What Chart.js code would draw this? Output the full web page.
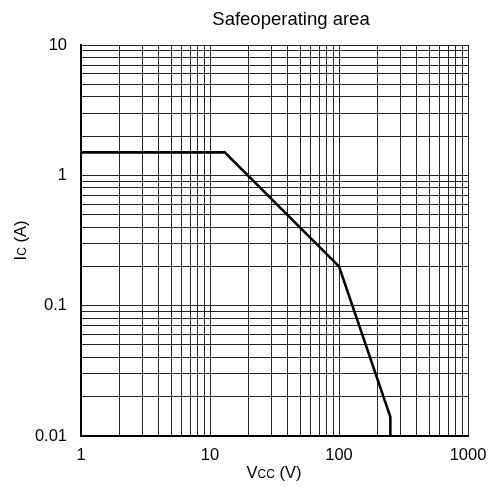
<!DOCTYPE html>
<html>
<head>
<meta charset="utf-8">
<script src="https://cdn.jsdelivr.net/npm/chart.js@4"></script>
<style>
  html, body { margin: 0; padding: 0; background: #fff; }
  #wrap { width: 491px; height: 487px; }
</style>
</head>
<body>
<div id="wrap"><canvas id="soa" width="491" height="487"></canvas></div>
<script>
// SOA boundary
const vcc = [1, 13, 100, 250, 250];
const ic = [1.5, 1.5, 0.2, 0.014, 0.01];

const xTickLabels = ['1', '10', '100', '1000'];
const yTickLabels = ['0.01', '0.1', '1', '10'];

const FONT = 'Arial, "Liberation Sans", sans-serif';

// 1..9 per decade so every minor grid line shows
function logTicks(min, max) {
  const out = [];
  for (let e = Math.round(Math.log10(min)); e < Math.round(Math.log10(max)); e++) {
    for (let k = 1; k < 10; k++) out.push({ value: k * Math.pow(10, e) });
  }
  out.push({ value: max });
  return out;
}

function labelFor(list) {
  return (v) => {
    const hit = list.find((s) => Math.abs(Number(s) - v) < Number(s) * 1e-6);
    return hit === undefined ? '' : hit;
  };
}

// draws a string made of [text, size] runs, left to right
function drawRuns(ctx, runs, x, y) {
  let cx = x;
  runs.forEach(([t, size]) => {
    ctx.font = size + 'px ' + FONT;
    ctx.fillText(t, cx, y);
    cx += ctx.measureText(t).width;
  });
}

function runsWidth(ctx, runs) {
  let w = 0;
  runs.forEach(([t, size]) => {
    ctx.font = size + 'px ' + FONT;
    w += ctx.measureText(t).width;
  });
  return w;
}

const textPlugin = {
  id: 'soaText',
  afterDraw(chart) {
    const ctx = chart.ctx;
    const area = chart.chartArea;
    ctx.save();
    ctx.fillStyle = '#000';
    ctx.textBaseline = 'alphabetic';

    // title
    ctx.font = '18.5px ' + FONT;
    ctx.textAlign = 'center';
    ctx.fillText('Safeoperating area', 291, 25);
    ctx.textAlign = 'left';

    // x axis title
    const xRuns = [['V', 16.5], ['CC', 12], [' (V)', 16.5]];
    const xw = runsWidth(ctx, xRuns);
    drawRuns(ctx, xRuns, 274 - xw / 2, 478);

    // y axis title
    const yRuns = [['I', 16.5], ['C', 12], [' (A)', 16.5]];
    const yw = runsWidth(ctx, yRuns);
    ctx.translate(26, (area.top + area.bottom) / 2);
    ctx.rotate(-Math.PI / 2);
    drawRuns(ctx, yRuns, -yw / 2, 0);
    ctx.restore();
  }
};

new Chart(document.getElementById('soa').getContext('2d'), {
  type: 'scatter',
  data: {
    datasets: [
      {
        data: vcc.map((v, i) => ({ x: v, y: ic[i] })),
        showLine: true,
        borderColor: '#000',
        borderWidth: 2.6,
        pointRadius: 0,
        fill: false,
        tension: 0,
      },
    ],
  },
  options: {
    responsive: false,
    animation: false,
    layout: { padding: { top: 45, right: 23, left: 0, bottom: 0 } },
    plugins: {
      legend: { display: false },
      tooltip: { enabled: false },
      title: { display: false },
    },
    scales: {
      x: {
        type: 'logarithmic',
        min: 1,
        max: 1000,
        afterBuildTicks: (s) => { s.ticks = logTicks(1, 1000); },
        afterFit: (s) => { s.height = 51; s.paddingLeft = 0; s.paddingRight = 0; },
        ticks: {
          autoSkip: false,
          maxRotation: 0,
          padding: 10,
          color: '#000',
          font: { family: FONT, size: 16.5 },
          callback: labelFor(xTickLabels),
        },
        grid: { color: 'rgba(0,0,0,0.85)', lineWidth: 1, drawTicks: false },
        border: { color: '#000', width: 2 },
      },
      y: {
        type: 'logarithmic',
        min: 0.01,
        max: 10,
        afterBuildTicks: (s) => { s.ticks = logTicks(0.01, 10); },
        afterFit: (s) => { s.width = 81; s.paddingTop = 0; s.paddingBottom = 0; },
        ticks: {
          autoSkip: false,
          padding: 14,
          color: '#000',
          font: { family: FONT, size: 16.5 },
          callback: labelFor(yTickLabels),
        },
        grid: { color: 'rgba(0,0,0,0.85)', lineWidth: 1, drawTicks: false },
        border: { color: '#000', width: 2 },
      },
    },
  },
  plugins: [textPlugin],
});
</script>
</body>
</html>
